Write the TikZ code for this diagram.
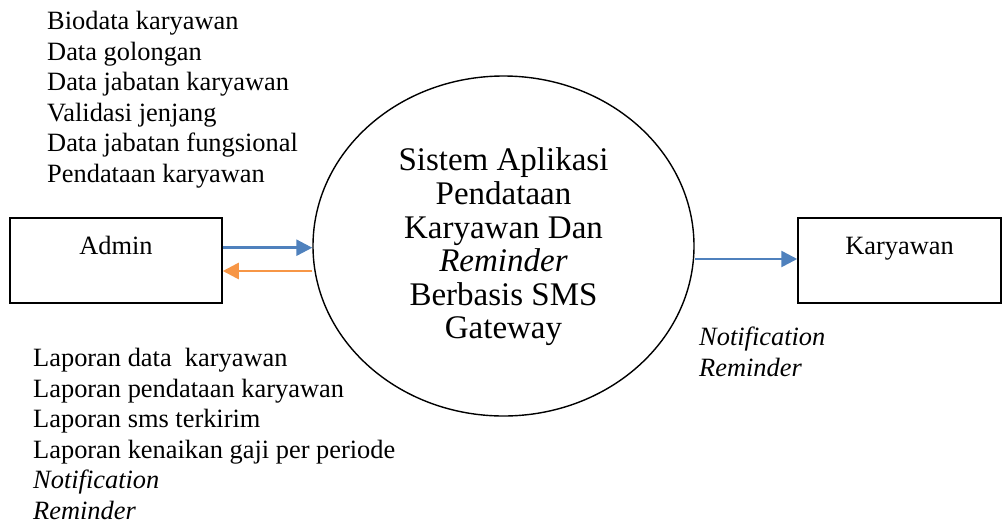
\documentclass[tikz,border=0pt]{standalone}
\usepackage{fontspec}
\setmainfont{Liberation Serif}
\usetikzlibrary{arrows.meta, positioning, shapes.geometric}
\definecolor{flowblue}{RGB}{79,129,189}
\definecolor{floworange}{RGB}{247,150,70}
\tikzset{%
	entity/.style={draw, line width=1.5pt, minimum height=85pt, inner sep=0pt,%
		text height=18pt, text depth=31pt, font=\fontsize{26.4}{30}\selectfont},
	process/.style={draw, ellipse, line width=1.4pt, minimum width=381pt, minimum height=340pt, inner sep=0pt},
	proclabel/.style={align=center, inner sep=0pt, font=\fontsize{33}{33.6}\selectfont},
	flowlist/.style={align=left, inner sep=0pt, font=\fontsize{26.4}{30.5}\selectfont},
	inflow/.style={-{Triangle[length=16pt, width=16pt]}, line width=2.6pt, flowblue},
	outflow/.style={-{Triangle[length=16pt, width=16pt]}, line width=2.6pt, floworange}
}
\begin{document}
\begin{tikzpicture}[x=1pt, y=-1pt]
	\useasboundingbox (0,0) rectangle (1002,523);
	\node[entity, minimum width=212pt] (admin) at (116,260.5) {Admin};
	\node[entity, minimum width=203pt] (kary) at (899.5,260.5) {Karyawan};
	\node[process] (proc) at (503.5,246) {};
	\node[proclabel] (proctext) at ([yshift=-1pt]proc.center) {Sistem Aplikasi\\Pendataan\\Karyawan Dan\\\textit{Reminder}\\Berbasis SMS\\Gateway};
	
	\node[flowlist, anchor=north west] (datain) at (47,11) {Biodata karyawan\\Data golongan\\Data jabatan karyawan\\Validasi jenjang\\Data jabatan fungsional\\Pendataan karyawan};
	\node[flowlist, anchor=north west] (dataout) at (33,348) {Laporan data\ \ karyawan\\Laporan pendataan karyawan\\Laporan sms terkirim\\Laporan kenaikan gaji per periode\\\textit{Notification}\\\textit{Reminder}};
	\node[flowlist, anchor=north west] (notif) at (699,327) {\textit{Notification}\\\textit{Reminder}};
	
	\coordinate (inA) at ([yshift=12.8pt]admin.east);
	\coordinate (outA) at ([yshift=-10.5pt]admin.east);
	\coordinate (inK) at ([yshift=1.5pt]kary.west);
	\draw[inflow] (inA) -- (inA -| proc.west);
	\draw[outflow] (outA -| proc.west) -- (outA);
	\draw[inflow] (inK -| proc.east) -- (inK);
\end{tikzpicture}
\end{document}
